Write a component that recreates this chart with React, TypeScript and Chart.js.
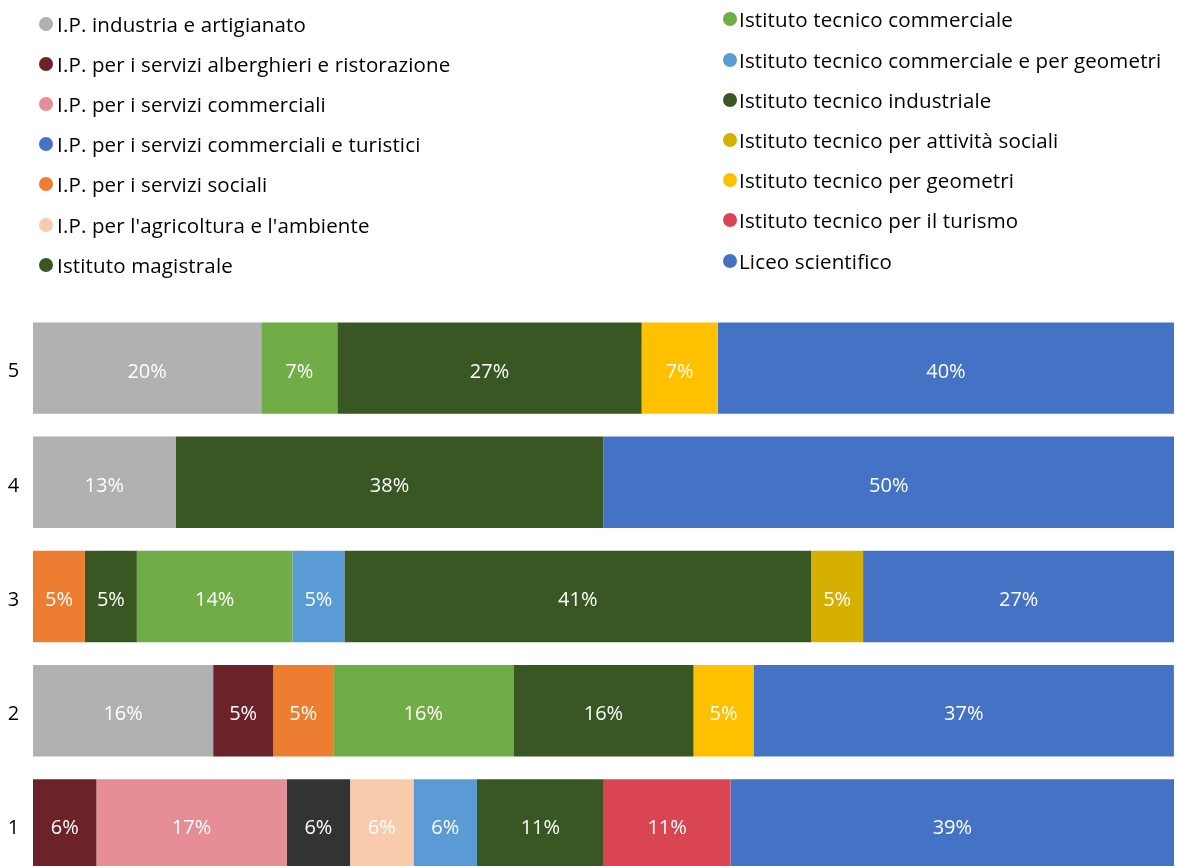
import React, { useEffect, useRef } from "react";
import { Chart, registerables } from "chart.js";

Chart.register(...registerables);

const categories = ["1", "2", "3", "4", "5"];

const seriesNames = [
  "I.P. industria e artigianato",
  "I.P. per i servizi alberghieri e ristorazione",
  "I.P. per i servizi commerciali",
  "I.P. per i servizi commerciali e turistici",
  "I.P. per i servizi sociali",
  "I.P. per l'agricoltura e l'ambiente",
  "Istituto magistrale",
  "Istituto tecnico commerciale",
  "Istituto tecnico commerciale e per geometri",
  "Istituto tecnico industriale",
  "Istituto tecnico per attività sociali",
  "Istituto tecnico per geometri",
  "Istituto tecnico per il turismo",
  "Liceo scientifico",
];

// values in percent, per category 1..5
const industria = [0, 15.79, 0, 12.5, 20];
const alberghieri = [5.56, 5.26, 0, 0, 0];
const ipCommerciali = [16.67, 0, 0, 0, 0];
const ipCommTuristici = [5.56, 0, 0, 0, 0];
const ipSociali = [0, 5.26, 4.55, 0, 0];
const agricoltura = [5.56, 0, 0, 0, 0];
const magistrale = [0, 0, 4.55, 0, 0];
const itCommerciale = [0, 15.79, 13.64, 0, 6.67];
const itCommGeometri = [5.56, 0, 4.55, 0, 0];
const itIndustriale = [11.11, 15.79, 40.91, 37.5, 26.67];
const itAttSociali = [0, 0, 4.55, 0, 0];
const itGeometri = [0, 5.26, 0, 0, 6.67];
const itTurismo = [11.11, 0, 0, 0, 0];
const liceo = [38.89, 36.84, 27.27, 50, 40];

const seriesValues = [
  industria,
  alberghieri,
  ipCommerciali,
  ipCommTuristici,
  ipSociali,
  agricoltura,
  magistrale,
  itCommerciale,
  itCommGeometri,
  itIndustriale,
  itAttSociali,
  itGeometri,
  itTurismo,
  liceo,
];

const barColors = [
  "#B1B1B1",
  "#6B2329",
  "#E68E96",
  "#333333",
  "#ED7D31",
  "#F8CBAD",
  "#385723",
  "#70AD47",
  "#5B9BD5",
  "#385723",
  "#D6B000",
  "#FFC000",
  "#D94652",
  "#4472C4",
];

const legendColors = [
  "#B1B1B1",
  "#6B2329",
  "#E68E96",
  "#4472C4",
  "#ED7D31",
  "#F8CBAD",
  "#385723",
  "#70AD47",
  "#5B9BD5",
  "#385723",
  "#D6B000",
  "#FFC000",
  "#D94652",
  "#4472C4",
];

const FONT = "'Open Sans', Lato, sans-serif";

const labelPlugin = {
  id: "segmentLabels",
  afterDatasetsDraw(chart: any) {
    const ctx = chart.ctx;
    ctx.save();
    ctx.font = `20px ${FONT}`;
    ctx.textAlign = "center";
    ctx.textBaseline = "alphabetic";
    ctx.fillStyle = "#FFFFFF";
    chart.data.datasets.forEach((ds: any, i: number) => {
      const meta = chart.getDatasetMeta(i);
      meta.data.forEach((el: any, j: number) => {
        const v = ds.data[j];
        if (!v) return;
        const cx = (el.x + el.base) / 2;
        ctx.fillText(Math.round(v) + "%", cx, el.y + 9.5);
      });
    });
    // category labels
    const yScale = chart.scales.y;
    ctx.fillStyle = "#000000";
    chart.data.labels.forEach((lab: string, j: number) => {
      const y = yScale.getPixelForValue(j);
      ctx.fillText(lab, 13.4, y + 9.3);
    });
    ctx.restore();
  },
};

function Legend() {
  const leftBase = 31.5;
  const rightBase = 27.3;
  const step = 40.2;
  const fs = 20.5;
  const items = seriesNames.map((name, i) => {
    const left = i < 7;
    const row = left ? i : i - 7;
    const base = (left ? leftBase : rightBase) + row * step;
    const circleCy = base - 8;
    const cx = left ? 46 : 730;
    const tx = left ? 57 : 739;
    return (
      <React.Fragment key={name}>
        <span
          style={{
            position: "absolute",
            left: cx - 7,
            top: circleCy - 7,
            width: 14,
            height: 14,
            borderRadius: 7,
            background: legendColors[i],
          }}
        />
        <span
          style={{
            position: "absolute",
            left: tx,
            top: base - 19.95,
            height: 24,
            whiteSpace: "nowrap",
            fontFamily: FONT,
            fontSize: fs,
            letterSpacing: "0.15px",
            lineHeight: "24px",
            color: "#000",
          }}
        >
          {name}
        </span>
      </React.Fragment>
    );
  });
  return <>{items}</>;
}

export default function App() {
  const ref = useRef<HTMLCanvasElement>(null);
  useEffect(() => {
    if (!ref.current) return;
    const chart = new Chart(ref.current, {
      type: "bar",
      data: {
        labels: categories,
        datasets: seriesNames.map((name, i) => ({
          label: name,
          data: seriesValues[i],
          backgroundColor: barColors[i],
          borderWidth: 0,
          categoryPercentage: 1,
          barPercentage: 0.8,
        })),
      },
      options: {
        indexAxis: "y",
        animation: false,
        responsive: false,
        devicePixelRatio: 1,
        layout: { padding: { top: 311, right: 4, left: 0, bottom: 0 } },
        plugins: {
          legend: { display: false },
          tooltip: { enabled: false },
        },
        scales: {
          x: {
            stacked: true,
            min: 0,
            max: 100,
            display: false,
          },
          y: {
            stacked: true,
            reverse: true,
            grid: { display: false, drawTicks: false },
            border: { display: false },
            ticks: { display: false },
            afterFit: (scale: any) => {
              scale.width = 33;
              scale.paddingTop = 0;
              scale.paddingBottom = 0;
            },
          },
        },
      },
      plugins: [labelPlugin],
    });
    return () => chart.destroy();
  }, []);
  return (
    <div
      style={{
        position: "fixed",
        left: 0,
        top: 0,
        width: 1178,
        height: 866,
        overflow: "hidden",
        background: "#fff",
      }}
    >
      <canvas
        ref={ref}
        width={1178}
        height={882}
        style={{ display: "block", position: "absolute", left: 0, top: 0 }}
      />
      <Legend />
    </div>
  );
}
